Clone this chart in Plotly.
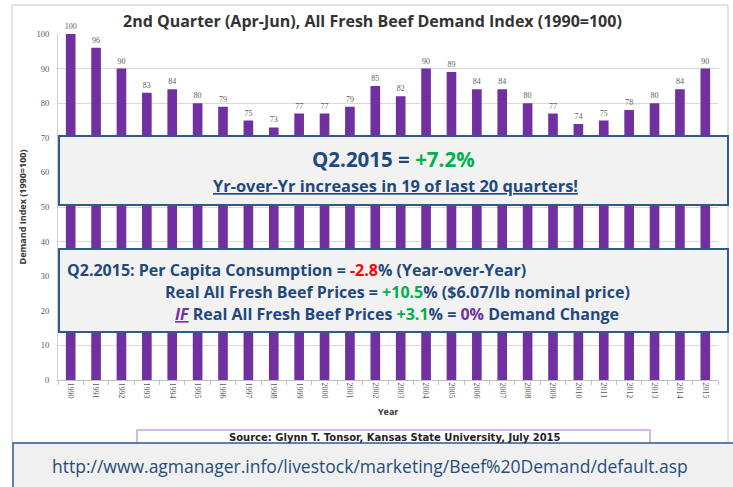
import plotly.graph_objects as go

years = [str(y) for y in range(1990, 2016)]
demand_index = [100, 96, 90, 83, 84, 80, 79, 75, 73, 77, 77, 79, 85, 82,
                90, 89, 84, 84, 80, 77, 74, 75, 78, 80, 84, 90]
y_ticks = [0, 10, 20, 30, 40, 50, 60, 70, 80, 90, 100]

W, H = 733, 487
L, R, T, B = 58, 15, 34, 107
PW, PH = W - L - R, H - T - B


def px(x):
    return (x - L) / PW


def py(y):
    return (H - B - y) / PH


BLUE = "#1f497d"
GREEN = "#00b050"
RED = "#ff0000"
PURPLE = "#7030a0"
FONT = "Open Sans, Lato, sans-serif"

fig = go.Figure()
fig.add_trace(go.Bar(
    x=years, y=demand_index,
    marker=dict(color=PURPLE, line=dict(width=0)),
    texttemplate="%{y}", textposition="outside", cliponaxis=False,
    constraintext="none",
    textfont=dict(size=8, color="#606060", family="Liberation Serif, serif"),
    hoverinfo="x+y",
))

shapes = [
    dict(type="rect", xref="paper", yref="paper", x0=px(12), x1=px(728),
         y0=py(443), y1=py(5), line=dict(color="#c8c8c8", width=1),
         fillcolor="rgba(0,0,0,0)", layer="below"),
    dict(type="rect", xref="paper", yref="paper", x0=px(59), x1=px(728),
         y0=py(205), y1=py(136), line=dict(color="#2f5a8c", width=2),
         fillcolor="#f2f2f2", layer="above"),
    dict(type="rect", xref="paper", yref="paper", x0=px(59), x1=px(728),
         y0=py(332), y1=py(249), line=dict(color="#2f5a8c", width=2),
         fillcolor="#f2f2f2", layer="above"),
    dict(type="rect", xref="paper", yref="paper", x0=px(137), x1=px(650),
         y0=py(446), y1=py(430), line=dict(color="#c9a3e0", width=1.5),
         fillcolor="white", layer="above"),
    dict(type="rect", xref="paper", yref="paper", x0=px(13), x1=px(745),
         y0=py(495), y1=py(443), line=dict(color="#2f5a8c", width=1.5),
         fillcolor="#f0f0f0", layer="above"),
]

annotations = [
    dict(text="<b>2nd Quarter (Apr-Jun), All Fresh Beef Demand Index (1990=100)</b>",
         x=px(372), y=py(21), font=dict(size=16, color="#333333", family=FONT)),
    dict(text=f"<b>Q2.2015 = <span style='color:{GREEN}'>+7.2%</span></b>",
         x=px(394), y=py(158.5), font=dict(size=20.5, color=BLUE, family=FONT)),
    dict(text="<b><u>Yr-over-Yr increases in 19 of last 20 quarters!</u></b>",
         x=px(395), y=py(185.5), font=dict(size=16.4, color=BLUE, family=FONT)),
    dict(text=f"<b>Q2.2015: Per Capita Consumption = <span style='color:{RED}'>-2.8</span>% (Year-over-Year)</b>",
         x=px(65), y=py(270), xanchor="left",
         font=dict(size=16, color=BLUE, family=FONT)),
    dict(text=f"<b>Real All Fresh Beef Prices = <span style='color:{GREEN}'>+10.5</span>% ($6.07/lb nominal price)</b>",
         x=px(397), y=py(292), font=dict(size=16, color=BLUE, family=FONT)),
    dict(text=(f"<b><span style='color:{PURPLE}'><i><u>IF</u></i></span> Real All Fresh Beef Prices "
               f"<span style='color:{GREEN}'>+3.1</span>% = <span style='color:{PURPLE}'>0%</span> Demand Change</b>"),
         x=px(397), y=py(314), font=dict(size=16, color=BLUE, family=FONT)),
    dict(text="<b>Source: Glynn T. Tonsor, Kansas State University, July 2015</b>",
         x=px(395), y=py(437.5), font=dict(size=10, color="#222222", family="DejaVu Sans, sans-serif")),
    dict(text="http://www.agmanager.info/livestock/marketing/Beef%20Demand/default.asp",
         x=px(370), y=py(466), font=dict(size=17.5, color="#1f4e79", family=FONT)),
    dict(text="<b>Year</b>", x=px(388), y=py(411),
         font=dict(size=9, color="#333333", family=FONT)),
]
for a in annotations:
    a.setdefault("xref", "paper")
    a.setdefault("yref", "paper")
    a.setdefault("showarrow", False)
    a.setdefault("xanchor", "center")
    a.setdefault("yanchor", "middle")

fig.update_layout(
    width=W, height=H,
    margin=dict(l=L, r=R, t=T, b=B, autoexpand=False),
    paper_bgcolor="white", plot_bgcolor="white",
    bargap=0.62, showlegend=False,
    shapes=shapes, annotations=annotations,
    xaxis=dict(
        type="category", tickangle=90,
        tickfont=dict(size=8, color="#595959", family="Liberation Serif, serif"),
        showline=True, linecolor="#bfbfbf", linewidth=1,
        ticks="outside", tickson="boundaries", ticklen=4, tickcolor="#bfbfbf",
        showgrid=False, automargin=False,
    ),
    yaxis=dict(
        range=[0, 100], tickvals=y_ticks,
        tickfont=dict(size=8.5, color="#595959", family="Liberation Serif, serif"),
        showgrid=True, gridcolor="#d9d9d9", gridwidth=1,
        showline=True, linecolor="#d0d0d0", linewidth=1,
        zeroline=False, ticks="", ticklabelstandoff=6,
        title=dict(text="<b>Demand Index (1990=100)</b>",
                   font=dict(size=9, color="#333333", family=FONT), standoff=8),
        automargin=False,
    ),
)

fig.write_html("out.html", config={"displayModeBar": False},
               post_script="document.body.style.margin='0';")
